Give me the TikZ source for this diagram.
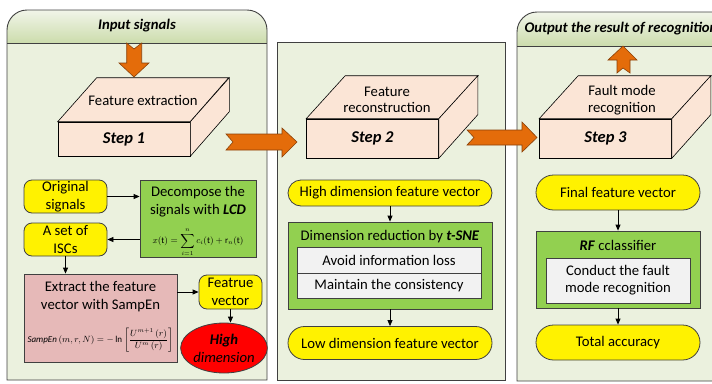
\documentclass[tikz,border=0pt]{standalone}
\usepackage{fontspec}
\setmainfont{Carlito}
\usetikzlibrary{arrows.meta,shapes.geometric,shapes.misc}

\definecolor{panelbg}{HTML}{EBF1DE}
\definecolor{headtop}{HTML}{F1F5E9}
\definecolor{headbot}{HTML}{CCDCAC}
\definecolor{panelline}{HTML}{404040}
\definecolor{boxpeach}{HTML}{FBE5D6}
\definecolor{boxgreen}{HTML}{92D050}
\definecolor{boxpink}{HTML}{E6B9B8}
\definecolor{boxgray}{HTML}{F2F2F2}
\definecolor{arroworange}{HTML}{E46C0A}
\definecolor{arrowedge}{HTML}{8A4108}

\tikzset{
  panel/.style={draw=panelline, line width=0.9pt},
  face/.style={draw=black, fill=boxpeach, line width=0.6pt},
  stepfront/.style={face, minimum width=132pt, inner sep=0pt,
    font=\fontsize{16.5}{19}\selectfont\bfseries\itshape},
  facetext/.style={align=center, font=\fontsize{14.7}{16.5}\selectfont},
  plaintext/.style={align=center, inner sep=0pt, font=\fontsize{14.7}{18}\selectfont},
  yellowbox/.style={draw=panelline, fill=yellow, rounded corners=8pt, align=center,
    inner sep=0pt, line width=0.8pt, font=\fontsize{14.7}{18}\selectfont},
  pill/.style={rounded rectangle, draw=panelline, fill=yellow, inner sep=0pt,
    line width=0.8pt, font=\fontsize{14.7}{18}\selectfont},
  greenbox/.style={draw=panelline, fill=boxgreen, inner sep=0pt, line width=0.8pt},
  graybox/.style={draw=panelline, fill=boxgray, inner sep=0pt, line width=0.6pt,
    align=center, font=\fontsize{14.7}{17}\selectfont},
  blockarrow/.style={fill=arroworange, draw=arrowedge, line width=0.6pt, line join=miter},
  link/.style={draw=black, line width=0.8pt, -{Triangle[length=6pt,width=5pt]}},
  headtext/.style={font=\fontsize{14.7}{17}\selectfont\bfseries\itshape}
}

\begin{document}
\begin{tikzpicture}[x=1pt,y=-1pt]
\useasboundingbox (0,0) rectangle (712,383);

%第一栏：输入信号
\fill[panelbg] (7,380) [rounded corners=20pt] -- (7,10) -- (267,10) [sharp corners] -- (267,380) -- cycle;
\begin{scope}
  \clip (7,43) [rounded corners=20pt] -- (7,10) -- (267,10) [sharp corners] -- (267,43) -- cycle;
  \shade[top color=headtop, bottom color=headbot] (7,10) rectangle (267,43);
\end{scope}
\draw[panel] (7,380) [rounded corners=20pt] -- (7,10) -- (267,10) [sharp corners] -- (267,380) -- cycle;
\draw[panel] (7,43) -- (267,43);
\node[headtext] (inhead) at (137,26) {Input signals};

%第二栏
\fill[panelbg] (277,42) rectangle (505,380);
\draw[panel] (277,42) rectangle (505,380);

%第三栏：输出识别结果（右边被裁掉）
\fill[panelbg] (517,381) [rounded corners=20pt] -- (517,12) -- (735,12) [sharp corners] -- (735,381) -- cycle;
\begin{scope}
  \clip (517,46) [rounded corners=20pt] -- (517,12) -- (735,12) [sharp corners] -- (735,46) -- cycle;
  \shade[top color=headtop, bottom color=headbot] (517,12) rectangle (735,46);
\end{scope}
\draw[panel] (517,381) [rounded corners=20pt] -- (517,12) -- (735,12) [sharp corners] -- (735,381) -- cycle;
\draw[panel] (517,46) -- (735,46);
\node[headtext] (outhead) at (621,29) {Output the result of recognition};

%三个立体方块
\node[stepfront, minimum height=34pt] (step1) at (124,139) {Step 1};
\draw[face] (step1.north west) -- ++(39,-44) -- ++(132,0) -- (step1.north east) -- cycle;
\draw[face] (step1.north east) -- ++(39,-44) -- ++(0,34) -- (step1.south east) -- cycle;
\node[facetext] (top1) at (143,100) {Feature extraction};

\node[stepfront, minimum height=39pt] (step2) at (372.5,138.5) {Step 2};
\draw[face] (step2.north west) -- ++(39,-43) -- ++(133,0) -- (step2.north east) -- cycle;
\draw[face] (step2.north east) -- ++(39,-43) -- ++(0,39) -- (step2.south east) -- cycle;
\node[facetext] (top2) at (387,100) {Feature\\reconstruction};

\node[stepfront, minimum height=39pt] (step3) at (605.5,138.5) {Step 3};
\draw[face] (step3.north west) -- ++(39,-43) -- ++(133,0) -- (step3.north east) -- cycle;
\draw[face] (step3.north east) -- ++(39,-43) -- ++(0,39) -- (step3.south east) -- cycle;
\node[facetext] (top3) at (622,100) {Fault mode\\recognition};

%橙色大箭头
\draw[blockarrow] (126.7,43) -- (134,49) -- (141.7,43) -- (141.7,63) -- (149,63) -- (134,77)
  -- (119,63) -- (126.7,63) -- cycle;
\draw[blockarrow] (226,134) -- (282,134) -- (282,128) -- (297,142) -- (282,157) -- (282,150)
  -- (226,150) -- (233,142) -- cycle;
\draw[blockarrow] (467,130) -- (522,130) -- (522,122) -- (537,137.5) -- (522,152) -- (522,145)
  -- (467,145) -- (474,137.5) -- cycle;
\draw[blockarrow] (617,73) -- (617,60) -- (608,60) -- (623,46) -- (637,60) -- (630,60)
  -- (630,73) -- (623,68) -- cycle;

%第一栏下面的流程
\node[yellowbox, minimum width=83pt, minimum height=33pt] (orig) at (65.5,196.5) {Original\\signals};
\node[greenbox, minimum width=116pt, minimum height=77pt] (lcd) at (198,218.5) {};
\node[plaintext] (lcdtext) at (198,201.5) {Decompose the\\signals with \textbf{\textit{LCD}}};
\node[inner sep=0pt, font=\fontsize{9}{10}\selectfont] (lcdform) at (198,242)
  {$\displaystyle x(\mathrm{t})=\sum_{i=1}^{n}c_i(\mathrm{t})+\mathrm{r}_n(\mathrm{t})$};
\node[yellowbox, minimum width=83pt, minimum height=33pt] (isc) at (65.5,239.5) {A set of\\ISCs};
\node[greenbox, fill=boxpink, minimum width=153pt, minimum height=88pt] (samp) at (100.5,318) {};
\node[plaintext] (samptext) at (100.5,297) {Extract the feature\\vector with SampEn};
\node[inner sep=0pt, font=\fontsize{9}{10}\selectfont] (sampform) at (100.5,340)
  {$\displaystyle \mathit{SampEn}\left(m,r,N\right)=-\ln\left[\frac{U^{m+1}\left(r\right)}{U^{m}\left(r\right)}\right]$};
\node[yellowbox, minimum width=63pt, minimum height=34pt] (feat) at (230.5,292) {Featrue\\vector};
\node[ellipse, draw=panelline, fill=red, line width=0.8pt, minimum width=80pt, minimum height=50pt,
  inner sep=0pt, align=center, font=\fontsize{14.7}{18}\selectfont\itshape] (high) at (224,348)
  {\textbf{High}\\dimension};

\draw[link] (orig.east) -- (orig.east -| lcd.west);
\draw[link] (lcd.west |- isc.east) -- (isc.east);
\draw[link] (isc.south) -- (isc.south |- samp.north);
\draw[link] (samp.east |- feat.west) -- (feat.west);
\draw[link] (feat.south) -- (feat.south |- high.north);

%第二栏下面的流程
\node[pill, minimum width=204pt, minimum height=26pt] (hdv) at (390,193) {High dimension feature vector};
\node[greenbox, minimum width=204pt, minimum height=87pt] (tsne) at (390,265.5) {};
\node[plaintext] (tsnetitle) at (390,237) {Dimension reduction by \textbf{\textit{t-SNE}}};
\node[graybox, minimum width=184pt, minimum height=25.5pt] (avoid) at (389,260.5) {Avoid information loss};
\node[graybox, minimum width=184pt, minimum height=25.5pt] (keep) at (389,286) {Maintain the consistency};
\node[pill, minimum width=204pt, minimum height=33pt] (ldv) at (390,343) {Low dimension feature vector};

\draw[link] (hdv.south) -- (tsne.north);
\draw[link] (tsne.south) -- (ldv.north);

%第三栏下面的流程
\node[pill, minimum width=164pt, minimum height=35pt] (ffv) at (618,192.5) {Final feature vector};
\node[greenbox, minimum width=164pt, minimum height=77pt] (rf) at (618,269.5) {};
\node[plaintext] (rftitle) at (618,245) {\textbf{\textit{RF}} cclassifier};
\node[graybox, minimum width=144pt, minimum height=45pt] (conduct) at (618,280.5)
  {Conduct the fault\\mode recognition};
\node[pill, minimum width=164pt, minimum height=35pt] (tacc) at (618,342.5) {Total accuracy};

\draw[link] (ffv.south) -- (rf.north);
\draw[link] (rf.south) -- (tacc.north);

\end{tikzpicture}
\end{document}
